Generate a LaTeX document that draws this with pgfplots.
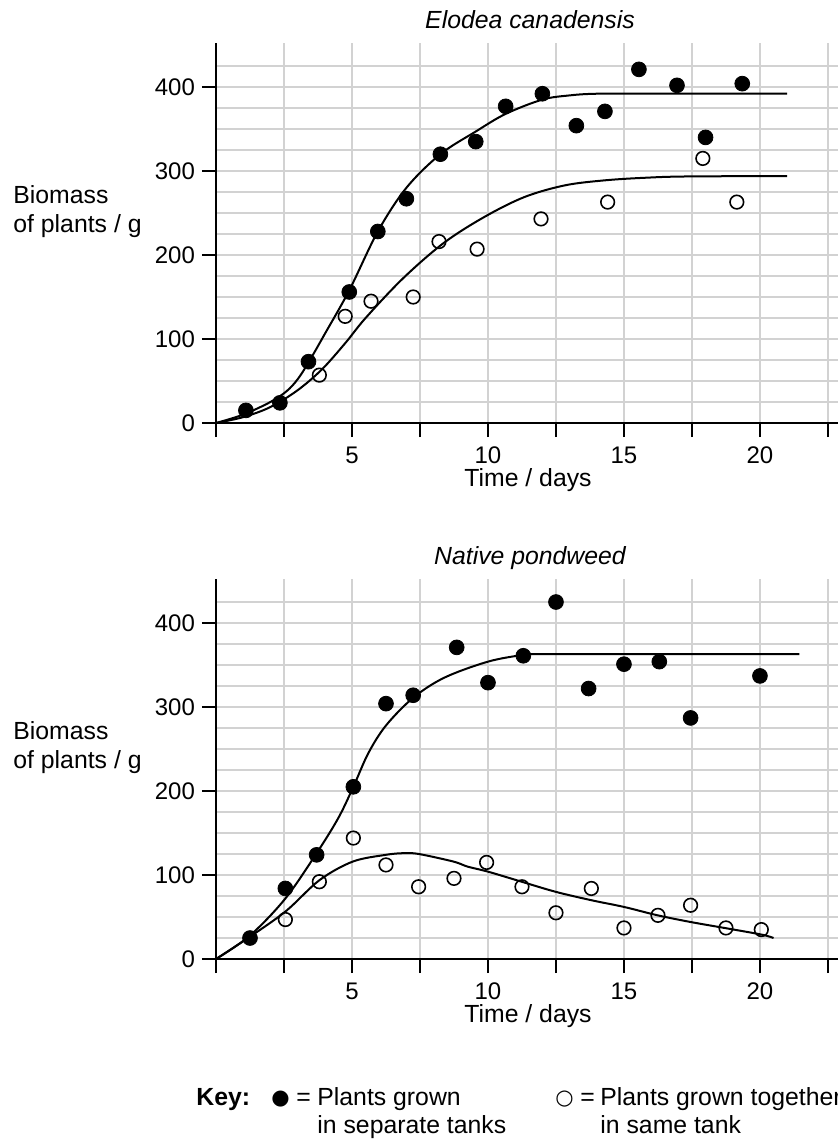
\documentclass[border=0pt]{standalone}
\usepackage{fontspec}
\setmainfont{Liberation Sans}
\newfontfamily\symfont{DejaVu Sans}
\usepackage{pgfplots}
\pgfplotsset{compat=1.18}

\newcommand{\txt}{\fontsize{12.4}{14}\selectfont}
\newcommand{\tck}{\fontsize{12}{14}\selectfont}

\pgfplotsset{
  biomass/.style={
    scale only axis, width=311pt, height=189.84pt,
    xmin=0, xmax=22.87, ymin=0, ymax=452,
    axis x line=bottom, axis y line=left,
    axis line style={-, line width=1.2pt},
    xtick={0,2.5,...,22.5},
    xticklabels={{},{},5,{},10,{},15,{},20,{}},
    ytick={0,100,...,400},
    minor ytick={25,50,...,425},
    grid=both,
    major grid style={gray!35, line width=0.8pt},
    minor grid style={gray!35, line width=0.8pt},
    tick align=outside,
    major tick length=7pt,
    minor tick length=0pt,
    tick style={black, line width=1.1pt},
    ticklabel style={font=\tck},
    xticklabel style={yshift=-1.5pt},
    /pgf/number format/assume math mode=true,
  },
  sep/.style={only marks, mark=*, mark size=3.7pt,
    mark options={fill=black, draw=black}},
  tog/.style={only marks, mark=o, mark size=3.4pt,
    mark options={draw=black, line width=0.8pt, fill=white}},
  fit/.style={black, line width=1pt, smooth, tension=0.55, no marks},
}

\begin{document}
\begin{tikzpicture}

% Elodea canadensis
\begin{axis}[biomass, at={(108pt,-211.5pt)}, anchor=south west]
\addplot[fit] coordinates {
  (0,0) (1.0,10) (2.0,25) (2.6,38) (3.0,52) (3.4,72) (4.0,106) (4.9,158)
  (5.95,228) (7.0,280) (8.25,320) (9.55,347) (10.65,368) (12.0,385)
  (13.0,390) (14.0,392) (16.0,392) (21.0,392)
};
\addplot[fit] coordinates {
  (0,0) (1.0,7) (2.0,19) (3.0,39) (3.9,64) (4.75,95) (5.5,125) (6.87,172)
  (8.36,214) (9.85,245) (11.34,269) (12.84,283) (14.33,289) (15.8,292)
  (17.3,293.5) (21.0,294)
};
\addplot[sep] coordinates {
  (1.1,15) (2.35,24) (3.4,73) (4.9,156) (5.95,228) (7.0,267) (8.25,320)
  (9.55,335) (10.65,377) (12.0,392) (13.25,354) (14.3,371) (15.55,421)
  (16.95,402) (18.0,340) (19.35,404)
};
\addplot[tog] coordinates {
  (3.8,57) (4.75,127) (5.7,145) (7.25,150) (8.2,216) (9.6,207)
  (11.95,243) (14.4,263) (17.9,315) (19.15,263)
};
\end{axis}

% Native pondweed
\begin{axis}[biomass, at={(108pt,-479.5pt)}, anchor=south west]
\addplot[fit] coordinates {
  (0,0) (1.25,28) (2.55,72) (3.7,126) (4.5,168) (5.05,205) (5.6,245)
  (6.25,278) (7.25,311) (8.4,335) (10.0,354) (11.3,362) (12.0,363)
  (16.0,363) (21.45,363)
};
\addplot[fit] coordinates {
  (0,0) (1.27,27) (2.57,57) (3.81,94) (5.03,116) (6.24,124) (6.9,126)
  (7.46,125) (8.73,116) (9.25,110) (10.0,104) (11.24,92) (12.49,80)
  (13.8,70) (15.0,62) (16.24,52) (17.46,44) (18.78,36.5) (20.07,29)
  (20.5,25)
};
\addplot[sep] coordinates {
  (1.25,25) (2.55,84) (3.7,124) (5.05,205) (6.25,304) (7.25,314)
  (8.85,371) (10.0,329) (11.3,361) (12.5,425) (13.7,322) (15.0,351)
  (16.3,354) (17.45,287) (20.0,337)
};
\addplot[tog] coordinates {
  (2.55,47) (3.8,92) (5.05,144) (6.25,112) (7.45,86) (8.75,96)
  (9.95,115) (11.25,86) (12.5,55) (13.8,84) (15.0,37) (16.25,52)
  (17.45,64) (18.75,37) (20.05,35)
};
\end{axis}

% titles and labels
\node[font=\itshape\txt, anchor=base] at (265pt,-14pt) {Elodea canadensis};
\node[font=\itshape\txt, anchor=base] at (265pt,-282pt) {Native pondweed};

\node[font=\txt, anchor=base west, inner sep=0] at (6.5pt,-101.5pt) {Biomass};
\node[font=\txt, anchor=base west, inner sep=0] at (6.5pt,-116pt) {of plants / g};
\node[font=\txt, anchor=base west, inner sep=0] at (6.5pt,-369.5pt) {Biomass};
\node[font=\txt, anchor=base west, inner sep=0] at (6.5pt,-384pt) {of plants / g};

\node[font=\txt, anchor=base] at (264pt,-243pt) {Time / days};
\node[font=\txt, anchor=base] at (264pt,-511pt) {Time / days};

% key
\node[font=\txt\bfseries, anchor=base west, inner sep=0] at (98pt,-552.5pt) {Key:};
\node[font=\fontsize{10.5}{12}\symfont, anchor=base west, inner sep=0] at (135.5pt,-552pt) {●};
\node[font=\txt, anchor=base west, inner sep=0] at (148pt,-552.5pt) {=};
\node[font=\txt, anchor=base west, inner sep=0] at (158.5pt,-552.5pt) {Plants grown};
\node[font=\txt, anchor=base west, inner sep=0] at (158.5pt,-566.5pt) {in separate tanks};
\node[font=\fontsize{10.5}{12}\symfont, anchor=base west, inner sep=0] at (277.5pt,-552pt) {○};
\node[font=\txt, anchor=base west, inner sep=0] at (290pt,-552.5pt) {=};
\node[font=\txt, anchor=base west, inner sep=0] at (300pt,-552.5pt) {Plants grown together};
\node[font=\txt, anchor=base west, inner sep=0] at (300pt,-566.5pt) {in same tank};

\pgfresetboundingbox
\path[use as bounding box] (0,0) rectangle (419pt,-571pt);
\end{tikzpicture}
\end{document}
